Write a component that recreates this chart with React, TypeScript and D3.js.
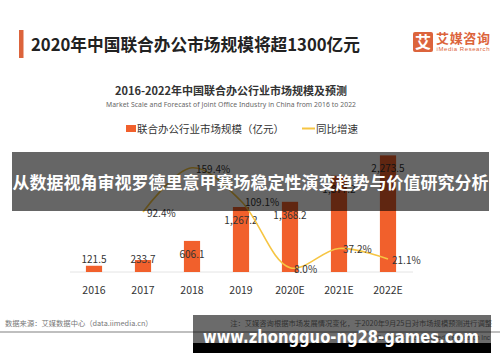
import React, { useEffect, useRef } from 'react';
import * as d3 from 'd3';

const years = ['2016', '2017', '2018', '2019', '2020E', '2021E', '2022E'];
const marketSize = [121.5, 233.7, 606.1, 1267.2, 1368.2, 1877.2, 2273.5];
const growthYears = ['2017', '2018', '2019', '2020E', '2021E', '2022E'];
const growthRate = [92.4, 159.4, 109.1, 8.0, 37.2, 21.1];

const W = 500;
const H = 362;
const CJK = '"Noto Sans CJK SC", "Noto Sans", sans-serif';
const BAR_COLOR = '#f1602c';
const LINE_COLOR = '#f6c543';
const BRAND = '#dc643c';

const App = () => {
  const svgRef = useRef<SVGSVGElement | null>(null);

  useEffect(() => {
    if (!svgRef.current) return;
    const svg = d3.select(svgRef.current);
    svg.selectAll('*').remove();

    svg.append('rect').attr('width', W).attr('height', H).attr('fill', '#fff');

    // header
    svg.append('rect').attr('x', 19).attr('y', 30).attr('width', 4.5).attr('height', 28).attr('fill', BRAND);
    svg.append('text')
      .attr('x', 31).attr('y', 50.5)
      .attr('font-family', CJK).attr('font-size', 17.5).attr('font-weight', 600)
      .attr('fill', '#222').attr('textLength', 329).attr('lengthAdjust', 'spacingAndGlyphs')
      .text('2020年中国联合办公市场规模将超1300亿元');

    // logo
    svg.append('rect').attr('x', 413).attr('y', 32).attr('width', 20).attr('height', 20).attr('rx', 2).attr('fill', BRAND);
    svg.append('text')
      .attr('x', 423).attr('y', 48).attr('text-anchor', 'middle')
      .attr('font-family', CJK).attr('font-size', 16).attr('font-weight', 700)
      .attr('fill', '#fff').text('艾');
    svg.append('text')
      .attr('x', 436).attr('y', 42.5)
      .attr('font-family', CJK).attr('font-size', 13).attr('font-weight', 700)
      .attr('fill', BRAND).attr('textLength', 54).text('艾媒咨询');
    svg.append('text')
      .attr('x', 436.5).attr('y', 51)
      .attr('font-family', '"Liberation Sans", sans-serif').attr('font-size', 6)
      .attr('fill', BRAND).attr('textLength', 53).text('iMedia Research');

    // chart titles
    svg.append('text')
      .attr('x', 231).attr('y', 94.5).attr('text-anchor', 'middle')
      .attr('font-family', CJK).attr('font-size', 11).attr('font-weight', 700)
      .attr('fill', '#333')
      .text('2016-2022年中国联合办公行业市场规模及预测');
    svg.append('text')
      .attr('x', 231).attr('y', 107).attr('text-anchor', 'middle')
      .attr('font-family', '"Noto Sans", sans-serif').attr('font-size', 6.8)
      .attr('fill', '#666').attr('textLength', 250)
      .text('Market Scale and Forecast of Joint Office Industry in China from 2016 to 2022');

    // legend
    svg.append('rect').attr('x', 126).attr('y', 125).attr('width', 10).attr('height', 7).attr('fill', BAR_COLOR);
    svg.append('text')
      .attr('x', 137).attr('y', 132.5)
      .attr('font-family', CJK).attr('font-size', 10.5).attr('fill', '#333')
      .text('联合办公行业市场规模（亿元）');
    svg.append('line')
      .attr('x1', 302).attr('x2', 315).attr('y1', 128.5).attr('y2', 128.5)
      .attr('stroke', LINE_COLOR).attr('stroke-width', 2);
    svg.append('text')
      .attr('x', 316).attr('y', 132.5)
      .attr('font-family', CJK).attr('font-size', 10.5).attr('fill', '#333')
      .text('同比增速');

    // scales
    const x = d3.scaleBand<string>()
      .domain(years)
      .range([69.5, 412.5])
      .paddingInner(0.67)
      .paddingOuter(0.335);
    const y = d3.scaleLinear().domain([0, 2500]).range([272, 143.75]);
    const y2 = d3.scaleLinear().domain([0, 200]).range([273, 141]);
    const cx = (d: string) => (x(d) || 0) + x.bandwidth() / 2;

    const chart = svg.append('g');

    chart.append('line')
      .attr('x1', 70).attr('x2', 413).attr('y1', y(0)).attr('y2', y(0))
      .attr('stroke', '#e4e4e4').attr('stroke-width', 1);

    chart.selectAll('.bar')
      .data(marketSize)
      .enter()
      .append('rect')
      .attr('class', 'bar')
      .attr('x', (d, i) => x(years[i]) || 0)
      .attr('width', x.bandwidth())
      .attr('y', d => y(d))
      .attr('height', d => y(0) - y(d))
      .attr('fill', BAR_COLOR);

    chart.selectAll('.bar-label')
      .data(marketSize)
      .enter()
      .append('text')
      .attr('class', 'bar-label')
      .attr('x', (d, i) => cx(years[i]))
      .attr('y', d => Math.min(y(d) + 17, 263))
      .attr('text-anchor', 'middle')
      .attr('font-family', CJK).attr('font-size', 10).attr('fill', '#333')
      .text(d => d3.format(',.1f')(d));

    chart.selectAll('.x-label')
      .data(years)
      .enter()
      .append('text')
      .attr('class', 'x-label')
      .attr('x', d => cx(d))
      .attr('y', 293.5)
      .attr('text-anchor', 'middle')
      .attr('font-family', CJK).attr('font-size', 10.5).attr('fill', '#333')
      .text(d => d);

    const pts: [number, number][] = growthRate.map((v, i) => [cx(growthYears[i]), y2(v)]);
    const line = d3.line().curve(d3.curveCatmullRom.alpha(0.5));
    chart.append('path')
      .attr('d', line(pts) || '')
      .attr('fill', 'none')
      .attr('stroke', LINE_COLOR)
      .attr('stroke-width', 1.6);

    chart.selectAll('.line-label')
      .data(growthRate)
      .enter()
      .append('text')
      .attr('class', 'line-label')
      .attr('x', (d, i) => pts[i][0] + 4)
      .attr('y', (d, i) => pts[i][1] + 5)
      .attr('font-family', CJK).attr('font-size', 10).attr('fill', '#333')
      .text(d => `${d.toFixed(1)}%`);

    // footer
    svg.append('text')
      .attr('x', 5).attr('y', 326)
      .attr('font-family', CJK).attr('font-size', 7.3).attr('fill', '#777')
      .text('数据来源：艾媒数据中心（data.iimedia.cn）');
    svg.append('text')
      .attr('x', 492).attr('y', 326).attr('text-anchor', 'end')
      .attr('font-family', CJK).attr('font-size', 7.3).attr('fill', '#777')
      .text('注：艾媒咨询根据市场发展情况变化，于2020年9月25日对市场规模预测进行调整');
    svg.append('line')
      .attr('x1', 0).attr('x2', W).attr('y1', 332).attr('y2', 332)
      .attr('stroke', '#aaa').attr('stroke-width', 1.5);
    svg.append('text')
      .attr('x', 490).attr('y', 340).attr('text-anchor', 'end')
      .attr('font-family', '"Liberation Sans", sans-serif').attr('font-size', 6.5).attr('fill', '#777')
      .text('Copyright © 2020 iiMedia Research Inc');

    // overlay band with headline
    svg.append('rect')
      .attr('x', 12).attr('y', 152).attr('width', 477).attr('height', 59)
      .attr('fill', '#000').attr('opacity', 0.6);
    svg.append('text')
      .attr('x', 12.5).attr('y', 189)
      .attr('font-family', CJK).attr('font-size', 16.6).attr('font-weight', 700)
      .attr('fill', '#fff').attr('textLength', 476).attr('lengthAdjust', 'spacingAndGlyphs')
      .text('从数据视角审视罗德里意甲赛场稳定性演变趋势与价值研究分析');

    // watermark
    svg.append('rect')
      .attr('x', 193).attr('y', 315).attr('width', 298).attr('height', 28)
      .attr('fill', '#000').attr('opacity', 0.58);
    svg.append('rect')
      .attr('x', 193).attr('y', 343).attr('width', 298).attr('height', 10)
      .attr('fill', '#000');
    svg.append('text')
      .attr('x', 203).attr('y', 343)
      .attr('font-family', '"DejaVu Sans", sans-serif').attr('font-size', 18).attr('font-weight', 700)
      .attr('fill', '#fff').attr('textLength', 276).attr('lengthAdjust', 'spacingAndGlyphs')
      .text('www.zhongguo-ng28-games.com');
  }, []);

  return (
    <svg
      ref={svgRef}
      width={W}
      height={H}
      style={{ position: 'absolute', left: 0, top: 0, display: 'block' }}
    />
  );
};

export default App;
